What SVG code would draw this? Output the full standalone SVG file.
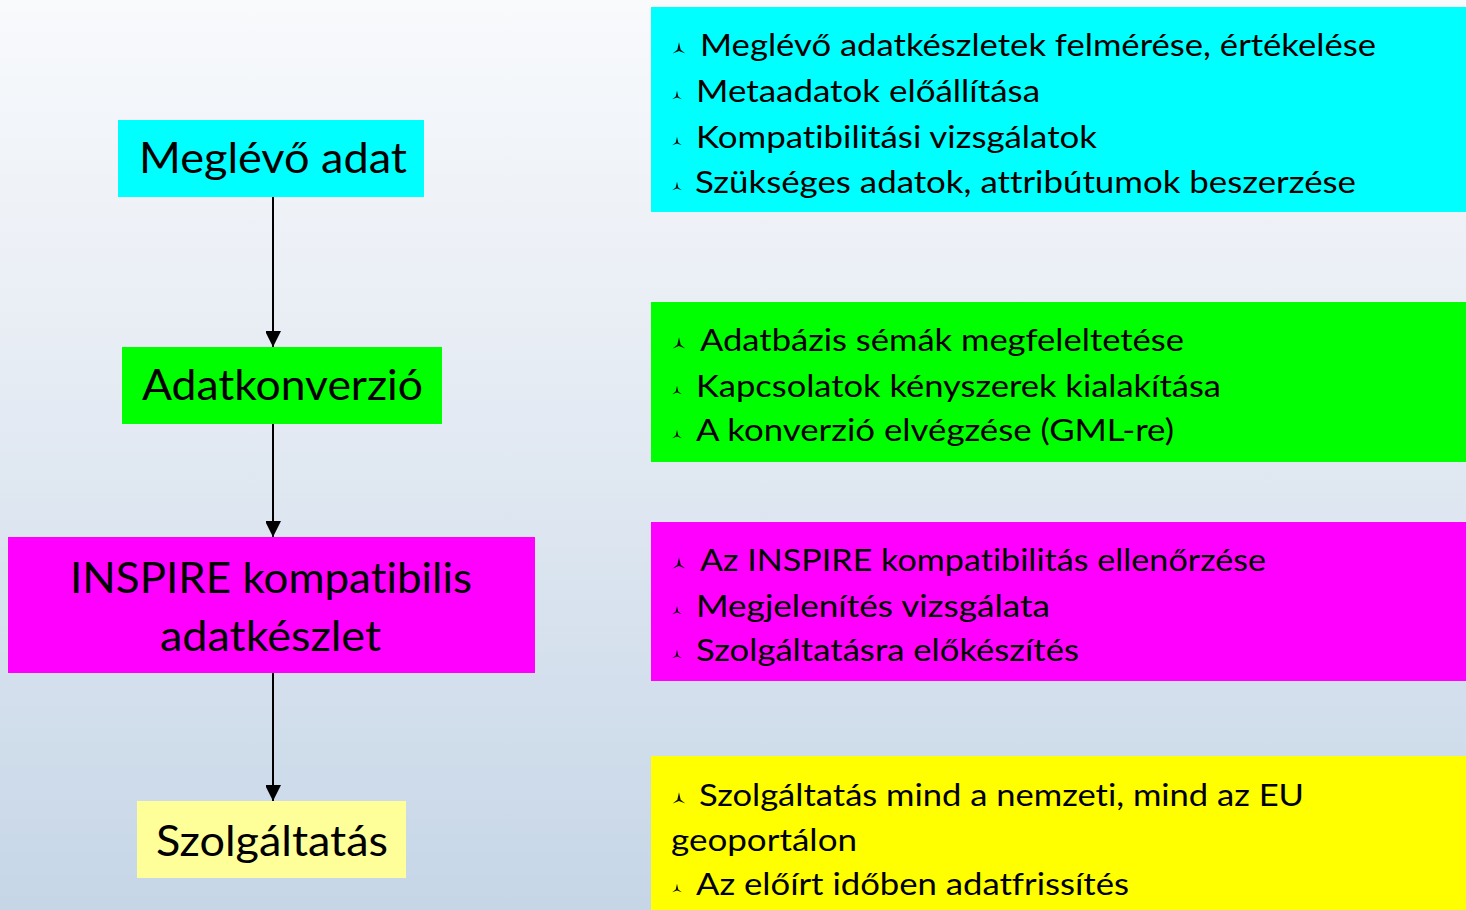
<svg xmlns="http://www.w3.org/2000/svg" width="1466" height="910" viewBox="0 0 1466 910">
<defs>
<linearGradient id="bg" x1="0" y1="0" x2="0" y2="1">
<stop offset="0" stop-color="#f8fafc"/>
<stop offset="0.35" stop-color="#e9eef5"/>
<stop offset="1" stop-color="#c6d6e7"/>
</linearGradient>
<path id="bul" d="M0,-6.5 L1.6,0.6 L6,4.2 L0,2 L-6,4.2 L-1.6,0.6 Z"/>
<marker id="arr" markerWidth="17" markerHeight="15" refX="16" refY="8" orient="auto" markerUnits="userSpaceOnUse">
<path d="M0,0 L16,8 L0,16 Z" fill="#000"/>
</marker>
</defs>
<style>
.node{font-family:Lato,"Liberation Sans",sans-serif;font-size:42px;fill:#000;font-variant-ligatures:none}
.item{font-family:Lato,"Liberation Sans",sans-serif;font-size:30px;fill:#000;font-variant-ligatures:none}
.b{fill:#111}
.conn{stroke:#000;stroke-width:2;fill:none}
</style>
<rect x="0" y="0" width="1466" height="910" fill="url(#bg)"/>

<g id="connectors">
<line class="conn" x1="273" y1="197" x2="273" y2="347" marker-end="url(#arr)"/>
<line class="conn" x1="273" y1="424" x2="273" y2="537" marker-end="url(#arr)"/>
<line class="conn" x1="273" y1="673" x2="273" y2="801" marker-end="url(#arr)"/>
</g>

<g id="node-meglevo">
<rect x="118" y="120" width="306" height="77" fill="#00ffff"/>
<text class="node" x="139" y="173" textLength="268" lengthAdjust="spacingAndGlyphs">Meglévő adat</text>
</g>
<g id="node-adatkonverzio">
<rect x="122" y="347" width="320" height="77" fill="#00ff00"/>
<text class="node" x="142" y="400" textLength="281" lengthAdjust="spacingAndGlyphs">Adatkonverzió</text>
</g>
<g id="node-inspire">
<rect x="8" y="537" width="527" height="136" fill="#ff00ff"/>
<text class="node" x="70" y="593" textLength="402" lengthAdjust="spacingAndGlyphs">INSPIRE kompatibilis</text>
<text class="node" x="160" y="651" textLength="221" lengthAdjust="spacingAndGlyphs">adatkészlet</text>
</g>
<g id="node-szolgaltatas">
<rect x="137" y="801" width="269" height="77" fill="#ffff99"/>
<text class="node" x="156" y="856" textLength="232" lengthAdjust="spacingAndGlyphs">Szolgáltatás</text>
</g>

<g id="box-cyan">
<rect x="651" y="7" width="815" height="205" fill="#00ffff"/>
<use href="#bul" class="b" transform="translate(679,49) scale(1.05)"/>
<text class="item" x="700" y="56" textLength="676" lengthAdjust="spacingAndGlyphs">Meglévő adatkészletek felmérése, értékelése</text>
<use href="#bul" class="b" transform="translate(677,96) scale(0.8)"/>
<text class="item" x="696" y="102" textLength="344" lengthAdjust="spacingAndGlyphs">Metaadatok előállítása</text>
<use href="#bul" class="b" transform="translate(677,142) scale(0.8)"/>
<text class="item" x="696" y="148" textLength="401" lengthAdjust="spacingAndGlyphs">Kompatibilitási vizsgálatok</text>
<use href="#bul" class="b" transform="translate(677,187) scale(0.8)"/>
<text class="item" x="695" y="193" textLength="661" lengthAdjust="spacingAndGlyphs">Szükséges adatok, attribútumok beszerzése</text>
</g>

<g id="box-green">
<rect x="651" y="302" width="815" height="160" fill="#00ff00"/>
<use href="#bul" class="b" transform="translate(679,344) scale(1.05)"/>
<text class="item" x="700" y="351" textLength="484" lengthAdjust="spacingAndGlyphs">Adatbázis sémák megfeleltetése</text>
<use href="#bul" class="b" transform="translate(677,391) scale(0.8)"/>
<text class="item" x="696" y="397" textLength="525" lengthAdjust="spacingAndGlyphs">Kapcsolatok kényszerek kialakítása</text>
<use href="#bul" class="b" transform="translate(677,435) scale(0.8)"/>
<text class="item" x="696" y="441" textLength="478" lengthAdjust="spacingAndGlyphs">A konverzió elvégzése (GML-re)</text>
</g>

<g id="box-magenta">
<rect x="651" y="522" width="815" height="159" fill="#ff00ff"/>
<use href="#bul" class="b" transform="translate(679,564) scale(1.05)"/>
<text class="item" x="700" y="571" textLength="566" lengthAdjust="spacingAndGlyphs">Az INSPIRE kompatibilitás ellenőrzése</text>
<use href="#bul" class="b" transform="translate(677,611) scale(0.8)"/>
<text class="item" x="696" y="617" textLength="354" lengthAdjust="spacingAndGlyphs">Megjelenítés vizsgálata</text>
<use href="#bul" class="b" transform="translate(677,655) scale(0.8)"/>
<text class="item" x="696" y="661" textLength="383" lengthAdjust="spacingAndGlyphs">Szolgáltatásra előkészítés</text>
</g>

<g id="box-yellow">
<rect x="651" y="756" width="815" height="154" fill="#ffff00"/>
<use href="#bul" class="b" transform="translate(679,799) scale(1.05)"/>
<text class="item" x="699" y="806" textLength="605" lengthAdjust="spacingAndGlyphs">Szolgáltatás mind a nemzeti, mind az EU</text>
<text class="item" x="671" y="851" textLength="186" lengthAdjust="spacingAndGlyphs">geoportálon</text>
<use href="#bul" class="b" transform="translate(677,889) scale(0.8)"/>
<text class="item" x="696" y="895" textLength="433" lengthAdjust="spacingAndGlyphs">Az előírt időben adatfrissítés</text>
</g>
</svg>
